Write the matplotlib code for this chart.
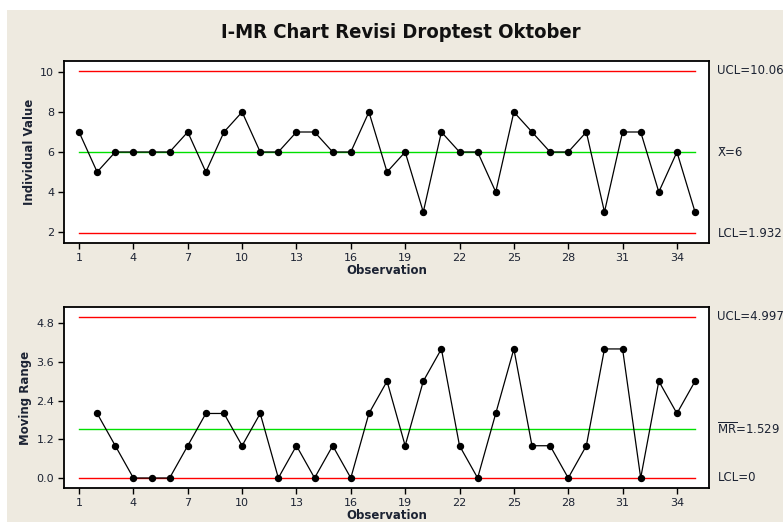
import matplotlib.pyplot as plt
from matplotlib.patches import Rectangle

# Individual measurements, observations 1..35
obs = list(range(1, 36))
values = [7, 5, 6, 6, 6, 6, 7, 5, 7, 8, 6, 6, 7, 7, 6, 6, 8, 5, 6, 3,
          7, 6, 6, 4, 8, 7, 6, 6, 7, 3, 7, 7, 4, 6, 3]
x_ticks = list(range(1, 36, 3))

# control limits
x_center = 6
x_ucl = 10.06
x_lcl = 1.932
mr_center = 1.529
mr_ucl = 4.997
mr_lcl = 0

i_ticks = [2, 4, 6, 8, 10]
mr_ticks = [0.0, 1.2, 2.4, 3.6, 4.8]

# moving range of two consecutive points
mr_obs = obs[1:]
mr_values = [abs(b - a) for a, b in zip(values, values[1:])]

txt = "#1c2333"
bg = "#eeeae0"
plt.rcParams["mathtext.fontset"] = "dejavusans"

fig = plt.figure(figsize=(7.83, 5.22), dpi=100, facecolor="white")
fig.patches.append(Rectangle((7 / 783, 0), 1, 1 - 10 / 522, transform=fig.transFigure,
                             facecolor=bg, edgecolor="none", zorder=-10))

W, H = 783, 522


def make_ax(left, top, right, bottom):
    return fig.add_axes([left / W, 1 - bottom / H, (right - left) / W, (bottom - top) / H])


ax1 = make_ax(64, 61, 709, 243)
ax2 = make_ax(64, 307, 709, 488)


def style(ax, yt, fmt):
    ax.set_xlim(0.17, 35.77)
    ax.set_xticks(x_ticks)
    ax.set_yticks(yt)
    ax.set_yticklabels([fmt.format(v) for v in yt])
    for s in ax.spines.values():
        s.set_linewidth(1.3)
        s.set_color("black")
    ax.tick_params(direction="out", length=4, width=1, labelsize=8, colors="black",
                   labelcolor=txt, pad=3)
    ax.set_xlabel("Observation", fontsize=8.5, fontweight="bold", color=txt, labelpad=1)


# individuals chart
ax1.plot([1, 35], [x_ucl, x_ucl], color="#ff0000", lw=1)
ax1.plot([1, 35], [x_lcl, x_lcl], color="#ff0000", lw=1)
ax1.plot([1, 35], [x_center, x_center], color="#00e000", lw=1)
ax1.plot(obs, values, color="black", lw=0.9, marker="o", ms=4.3, zorder=5)
ax1.set_ylim(1.45, 10.55)
style(ax1, i_ticks, "{:g}")
ax1.set_ylabel("Individual Value", fontsize=8.5, fontweight="bold", color=txt, labelpad=3)

# moving range chart
ax2.plot([1, 35], [mr_ucl, mr_ucl], color="#ff0000", lw=1)
ax2.plot([1, 35], [mr_lcl, mr_lcl], color="#ff0000", lw=1)
ax2.plot([1, 35], [mr_center, mr_center], color="#00e000", lw=1)
ax2.plot(mr_obs, mr_values, color="black", lw=0.9, marker="o", ms=4.3, zorder=5)
ax2.set_ylim(-0.31, 5.3)
style(ax2, mr_ticks, "{:.1f}")
ax2.set_ylabel("Moving Range", fontsize=8.5, fontweight="bold", color=txt, labelpad=3)
# line the two y labels up at the same x
fig.align_ylabels([ax1, ax2])

# limit labels on the right
lab = dict(fontsize=8.5, color=txt, va="center", ha="left", clip_on=False)
t1 = ax1.get_yaxis_transform()
t2 = ax2.get_yaxis_transform()
ax1.text(1.013, x_ucl, f"UCL={x_ucl}", transform=t1, **lab)
ax1.text(1.013, x_center, f"X\u0304={x_center}", transform=t1, **lab)
ax1.text(1.013, x_lcl, f"LCL={x_lcl}", transform=t1, **lab)
ax2.text(1.013, mr_ucl, f"UCL={mr_ucl}", transform=t2, **lab)
ax2.text(1.013, mr_center, r"$\overline{\mathrm{MR}}$" + f"={mr_center}", transform=t2, **lab)
ax2.text(1.013, mr_lcl, f"LCL={mr_lcl}", transform=t2, **lab)

fig.text(401 / W, 1 - 32 / H, "I-MR Chart Revisi Droptest Oktober", ha="center", va="center",
         fontsize=14.5, fontweight="bold", fontstretch="condensed", color="#111111")

fig.savefig("out.png", dpi=100, facecolor=fig.get_facecolor())
